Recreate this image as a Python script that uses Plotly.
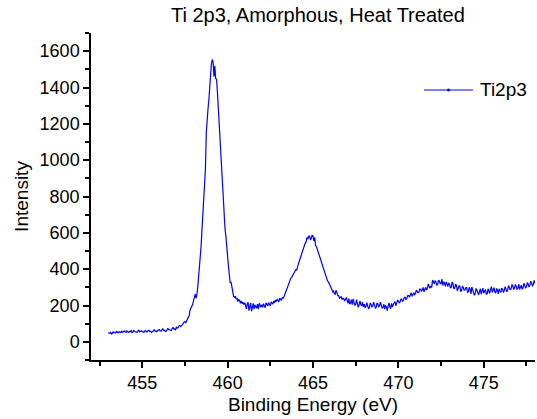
import plotly.graph_objects as go

# Intensity, 0.05 eV steps from 453.00 to 478.00 eV
intensity = [
    # 453
    50, 49, 47, 52, 41, 48, 55, 50, 53, 49, 57, 52, 50, 55, 54, 51, 58, 53, 55, 60,
    # 454
    55, 52, 60, 57, 52, 58, 57, 62, 49, 55, 62, 57, 56, 52, 53, 60, 64, 55, 58, 61,
    # 455
    57, 54, 52, 60, 61, 55, 55, 63, 63, 57, 58, 52, 54, 60, 66, 58, 60, 56, 62, 67,
    # 456
    68, 60, 59, 66, 72, 63, 64, 58, 58, 65, 75, 68, 66, 60, 62, 72, 80, 70, 71, 65,
    # 457
    82, 75, 78, 88, 90, 84, 88, 95, 100, 108, 112, 106, 118, 124, 132, 145, 175, 186, 192, 205,
    # 458
    225, 250, 262, 240, 258, 300, 350, 400, 453, 530, 620, 713, 780, 880, 950, 1150, 1240, 1280, 1330, 1420,
    # 459
    1500, 1530, 1554, 1540, 1460, 1520, 1450, 1445, 1380, 1300, 1200, 1098, 1010, 930, 840, 748, 680, 620, 582, 540,
    # 460
    470, 416, 350, 324, 330, 300, 262, 250, 245, 252, 235, 240, 222, 232, 228, 212, 225, 210, 218, 205,
    # 461
    215, 190, 182, 208, 218, 172, 198, 214, 168, 196, 212, 180, 204, 192, 186, 208, 180, 212, 198, 190,
    # 462
    205, 190, 210, 195, 188, 215, 205, 198, 215, 200, 198, 220, 210, 208, 225, 215, 230, 222, 235, 228,
    # 463
    220, 240, 235, 228, 245, 240, 248, 262, 275, 290, 300, 310, 330, 345, 350, 355, 365, 372, 380, 390,
    # 464
    398, 395, 420, 430, 445, 460, 480, 490, 500, 515, 530, 545, 550, 575, 565, 582, 582, 560, 570, 588,
    # 465
    582, 555, 575, 530, 525, 510, 500, 490, 475, 460, 445, 430, 410, 400, 380, 370, 350, 335, 330, 320,
    # 466
    315, 300, 290, 275, 280, 265, 262, 285, 270, 255, 255, 240, 245, 250, 232, 240, 238, 225, 232, 245,
    # 467
    228, 212, 238, 208, 214, 232, 204, 236, 218, 200, 206, 232, 212, 190, 202, 226, 206, 198, 218, 192,
    # 468
    208, 190, 194, 216, 198, 182, 188, 214, 206, 190, 200, 218, 202, 186, 190, 214, 208, 190, 200, 218,
    # 469
    202, 184, 190, 208, 180, 200, 192, 172, 198, 214, 192, 182, 212, 192, 206, 218, 222, 198, 214, 228,
    # 470
    225, 215, 218, 235, 235, 222, 230, 245, 245, 232, 240, 255, 255, 245, 260, 270, 250, 262, 270, 260,
    # 471
    265, 285, 280, 270, 272, 290, 290, 278, 285, 300, 275, 290, 300, 285, 295, 318, 310, 295, 305, 300,
    # 472
    340, 325, 320, 335, 330, 312, 315, 340, 335, 320, 320, 345, 310, 330, 325, 305, 330, 318, 305, 322,
    # 473
    318, 296, 302, 330, 320, 292, 296, 318, 310, 280, 292, 308, 306, 276, 282, 304, 300, 284, 286, 298,
    # 474
    298, 272, 276, 300, 290, 264, 302, 284, 280, 256, 266, 294, 284, 268, 258, 278, 292, 262, 276, 296,
    # 475
    268, 284, 288, 262, 264, 292, 280, 266, 292, 304, 272, 288, 298, 274, 268, 294, 284, 264, 292, 280,
    # 476
    272, 296, 290, 272, 282, 304, 294, 276, 286, 310, 298, 286, 292, 314, 310, 288, 296, 316, 304, 288,
    # 477
    298, 318, 288, 306, 312, 292, 296, 322, 314, 298, 302, 326, 318, 302, 312, 334, 324, 306, 316, 338,
    # 478
    320,
]

# Binding energy grid (eV)
energy = [round(453.0 + 0.05 * i, 2) for i in range(len(intensity))]

series_name = "Ti2p3"
title_text = "Ti 2p3, Amorphous, Heat Treated"
x_title = "Binding Energy (eV)"
y_title = "Intensity"

FONT = "Liberation Sans, Arial, sans-serif"
BLUE = "#0000FF"

fig = go.Figure()
fig.add_trace(go.Scatter(
    x=energy, y=intensity, mode="lines", name=series_name,
    line=dict(color=BLUE, width=1.2), showlegend=False,
))

# Custom legend (line sample with a dot, and label)
L, T, W, H = 91, 33, 444, 327
def px_x(p): return (p - L) / W
def px_y(p): return (T + H - p) / H

ly = px_y(90)
fig.add_shape(type="line", xref="paper", yref="paper",
              x0=px_x(424), x1=px_x(473), y0=ly, y1=ly,
              line=dict(color=BLUE, width=1))
fig.add_trace(go.Scatter(
    x=[px_x(448.5)], y=[ly], xaxis="x2", yaxis="y2", mode="markers",
    marker=dict(color=BLUE, size=3), showlegend=False, hoverinfo="skip",
))
fig.add_annotation(xref="paper", yref="paper", x=px_x(478), y=ly,
                   text=series_name, showarrow=False, xanchor="left",
                   yanchor="middle", font=dict(family=FONT, size=19, color="black"))

axis_common = dict(
    showline=True, linecolor="black", linewidth=1.5, showgrid=False,
    zeroline=False, ticks="outside", ticklen=6, tickwidth=1.5,
    tickcolor="black", mirror=False,
    tickfont=dict(family=FONT, size=18, color="black"),
)

fig.update_layout(
    width=537, height=419,
    margin=dict(l=L, r=537 - L - W, t=T, b=419 - T - H),
    paper_bgcolor="white", plot_bgcolor="white",
    title=dict(text=title_text, x=0.592, xanchor="center", y=0.964, yanchor="middle",
               font=dict(family=FONT, size=20, color="black")),
    xaxis=dict(range=[452, 478], tick0=455, dtick=5,
               minor=dict(ticks="outside", ticklen=4, tickwidth=1.5, tickcolor="black", dtick=2.5, tick0=452.5),
               title=dict(text=x_title, standoff=5, font=dict(family=FONT, size=19, color="black")),
               **axis_common),
    yaxis=dict(range=[-100, 1700], tick0=0, dtick=200,
               minor=dict(ticks="outside", ticklen=4, tickwidth=1.5, tickcolor="black", dtick=100, tick0=0),
               title=dict(text=y_title, standoff=6, font=dict(family=FONT, size=19, color="black")),
               **axis_common),
    xaxis2=dict(range=[0, 1], overlaying="x", visible=False),
    yaxis2=dict(range=[0, 1], overlaying="y", visible=False),
    showlegend=False,
)

fig.write_html("out.html")
